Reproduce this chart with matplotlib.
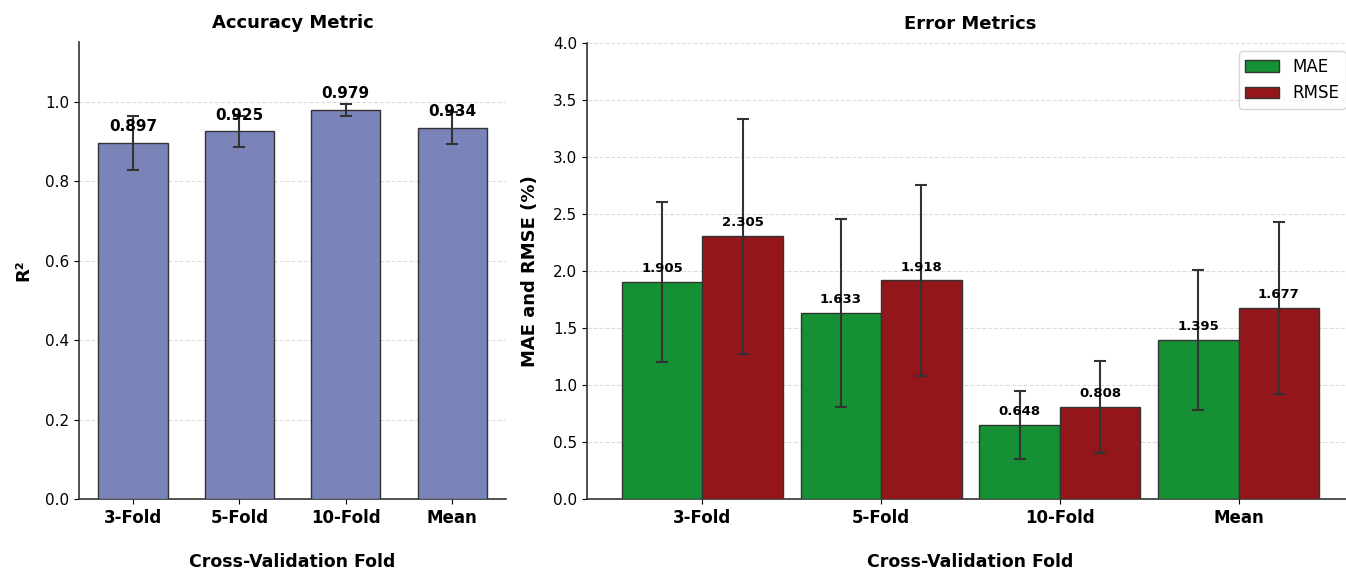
import numpy as np
import matplotlib
matplotlib.use("Agg")
import matplotlib.pyplot as plt

folds = ["3-Fold", "5-Fold", "10-Fold", "Mean"]
r2 = [0.897, 0.925, 0.979, 0.934]
r2_err = [0.068, 0.038, 0.015, 0.040]
mae = [1.905, 1.633, 0.648, 1.395]
mae_err = [0.70, 0.826, 0.30, 0.61]
rmse = [2.305, 1.918, 0.808, 1.677]
rmse_err = [1.03, 0.836, 0.405, 0.757]

edge = "#333333"
fig = plt.figure(figsize=(13.46, 5.72), dpi=100)
ax1 = fig.add_axes([0.0587, 0.1276, 0.3173, 0.799])
ax2 = fig.add_axes([0.4361, 0.1276, 0.5698, 0.7972])

x = np.arange(len(folds))

# left: R2
ax1.bar(x, r2, width=0.65, color="#7b84b9", edgecolor=edge, linewidth=1.0,
        yerr=r2_err, capsize=4, error_kw=dict(ecolor=edge, elinewidth=1.5, capthick=1.5),
        zorder=3)
for xi, v in zip(x, r2):
    ax1.text(xi, v + 0.022, f"{v:.3f}", ha="center", va="bottom",
             fontsize=11, fontweight="bold", zorder=5)
ax1.set_ylim(0, 1.15)
ax1.set_yticks(np.arange(0, 1.01, 0.2))
ax1.set_xticks(x)
ax1.set_xticklabels(folds, fontsize=12, fontweight="bold")
ax1.tick_params(axis="y", labelsize=11)
ax1.set_title("Accuracy Metric", fontsize=13, fontweight="bold", pad=10)
ax1.set_ylabel("R²", fontsize=13, fontweight="bold", labelpad=9)
ax1.set_xlabel("Cross-Validation Fold", fontsize=12.5, fontweight="bold", labelpad=19)

# right: MAE / RMSE
w = 0.45
ax2.bar(x - w / 2, mae, width=w, color="#169034", edgecolor=edge, linewidth=1.0,
        yerr=mae_err, capsize=4, error_kw=dict(ecolor=edge, elinewidth=1.5, capthick=1.5),
        label="MAE", zorder=3)
ax2.bar(x + w / 2, rmse, width=w, color="#93161b", edgecolor=edge, linewidth=1.0,
        yerr=rmse_err, capsize=4, error_kw=dict(ecolor=edge, elinewidth=1.5, capthick=1.5),
        label="RMSE", zorder=3)
for xi, v in zip(x - w / 2, mae):
    ax2.text(xi, v + 0.06, f"{v:.3f}", ha="center", va="bottom",
             fontsize=9.5, fontweight="bold", zorder=5)
for xi, v in zip(x + w / 2, rmse):
    ax2.text(xi, v + 0.06, f"{v:.3f}", ha="center", va="bottom",
             fontsize=9.5, fontweight="bold", zorder=5)
ax2.set_ylim(0, 4.0)
ax2.set_yticks(np.arange(0, 4.01, 0.5))
ax2.set_xticks(x)
ax2.set_xticklabels(folds, fontsize=12, fontweight="bold")
ax2.tick_params(axis="y", labelsize=11)
ax2.set_title("Error Metrics", fontsize=13, fontweight="bold", pad=10)
ax2.set_ylabel("MAE and RMSE (%)", fontsize=13, fontweight="bold", labelpad=10)
ax2.set_xlabel("Cross-Validation Fold", fontsize=12.5, fontweight="bold", labelpad=19)
ax2.legend(loc="upper right", fontsize=12, frameon=True)

for ax in (ax1, ax2):
    ax.spines["top"].set_visible(False)
    ax.spines["right"].set_visible(False)
    ax.spines["left"].set_color(edge)
    ax.spines["bottom"].set_color(edge)
    ax.spines["left"].set_linewidth(1.2)
    ax.spines["bottom"].set_linewidth(1.2)
    ax.yaxis.grid(True, linestyle="--", color="#d4d4d4", alpha=0.8, linewidth=0.8, zorder=0)
    ax.set_axisbelow(True)

fig.savefig("out.png", dpi=100)
